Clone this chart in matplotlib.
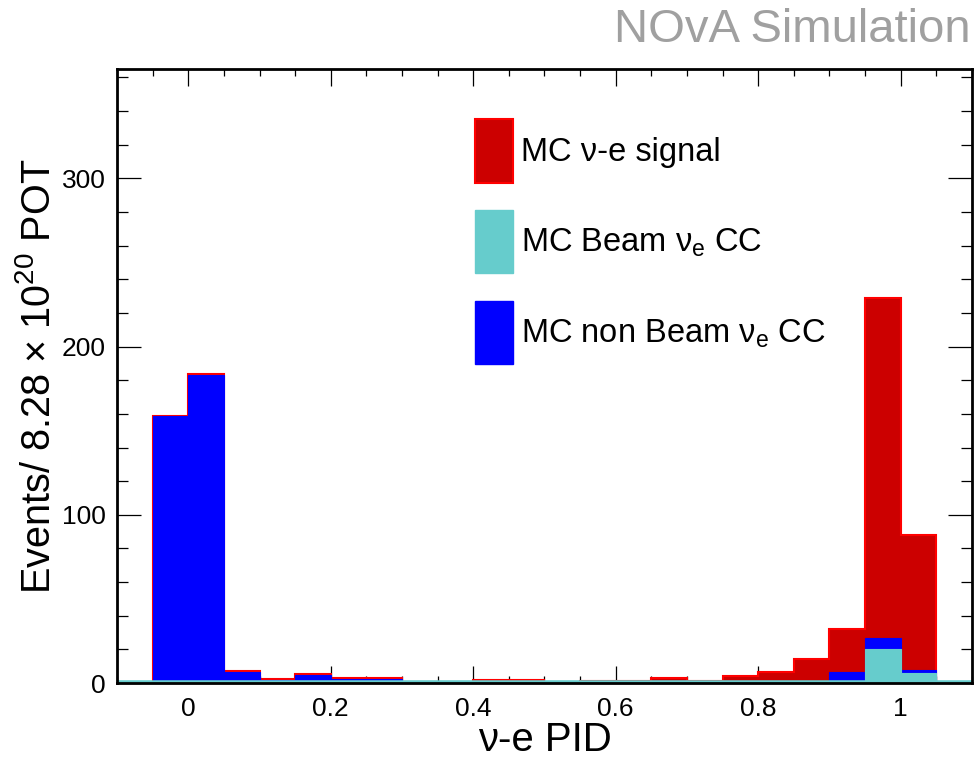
import numpy as np
import matplotlib
matplotlib.use("Agg")
import matplotlib.pyplot as plt
from matplotlib.ticker import MultipleLocator
from matplotlib.patches import Patch

plt.rcParams['font.family'] = ['Liberation Sans', 'DejaVu Sans']
plt.rcParams['mathtext.fontset'] = 'custom'
plt.rcParams['mathtext.rm'] = 'Liberation Sans'
plt.rcParams['mathtext.it'] = 'Liberation Sans:italic'

# bin edges of the nu-e PID histogram (-0.1 .. 1.1, width 0.05)
edges = np.round(np.arange(-0.1, 1.1001, 0.05), 3)

# events per bin
beam_nue = [0, 0, 0, 0, 0, 0, 0, 0, 0, 0, 0, 0,
            0, 0, 0, 0, 0, 0, 0, 0, 0.8, 20, 6, 0]
nonbeam_nue = [0, 158.5, 183, 6.5, 2.0, 5.0, 2.5, 2.5, 0.3, 0.3, 0.5, 0.5,
               0.3, 0.3, 0.3, 1.5, 0.3, 0.8, 0.8, 0.8, 5.5, 7, 2, 0]
signal = [0, 0.3, 0.8, 0.4, 0.4, 0.4, 0.4, 0.4, 0.2, 0.3, 1.5, 1.5,
          0.6, 1.0, 1.0, 1.5, 1.2, 3.5, 5.8, 13.5, 26, 202, 80, 0]

beam_nue = np.array(beam_nue)
nonbeam_nue = np.array(nonbeam_nue)
signal = np.array(signal)

# stacked like a THStack: each drawn as cumulative
cum_beam = beam_nue
cum_nonbeam = beam_nue + nonbeam_nue
cum_total = cum_nonbeam + signal

fig = plt.figure(figsize=(9.77, 7.58), dpi=100)
ax = fig.add_axes([0.1198, 0.0989, 0.875, 0.810])

ax.stairs(cum_total, edges, fill=True, facecolor='#cc0000', edgecolor='#ff0000',
          linewidth=1.5, zorder=2)
ax.stairs(cum_nonbeam, edges, fill=True, facecolor='#0000ff', edgecolor='#0000ff',
          linewidth=0.8, zorder=3)
ax.stairs(cum_beam, edges, fill=True, facecolor='#66cccc', edgecolor='#66cccc',
          linewidth=0.8, zorder=4)
ax.axhline(0, color='#66cccc', linewidth=4, zorder=5)

# legend with proxy patches
handles = [Patch(facecolor='#cc0000', edgecolor='#ff0000', linewidth=1.5),
           Patch(facecolor='#66cccc', edgecolor='#66cccc'),
           Patch(facecolor='#0000ff', edgecolor='#0000ff')]
labels = ['MC \u03bd-e signal', 'MC Beam \u03bd$_\\mathrm{e}$ CC',
          'MC non Beam \u03bd$_\\mathrm{e}$ CC']
ax.legend(handles, labels, loc='upper left', bbox_to_anchor=(0.419, 0.918),
          frameon=False, fontsize=23.5, handlelength=1.15, handleheight=2.6,
          labelspacing=0.85, handletextpad=0.25, borderaxespad=0, borderpad=0)

ax.set_xlim(-0.1, 1.1)
ax.set_ylim(0, 365)
ax.xaxis.set_minor_locator(MultipleLocator(0.05))
ax.yaxis.set_major_locator(MultipleLocator(100))
ax.yaxis.set_minor_locator(MultipleLocator(20))
ax.set_xticks([0, 0.2, 0.4, 0.6, 0.8, 1.0])
ax.set_xticklabels(['0', '0.2', '0.4', '0.6', '0.8', '1'])

ax.tick_params(axis='both', which='both', direction='in', top=True, right=True,
               labelsize=19, width=0.9)
ax.tick_params(axis='x', which='major', length=12, pad=10)
ax.tick_params(axis='x', which='minor', length=5)
ax.tick_params(axis='y', which='major', length=17, pad=8)
ax.tick_params(axis='y', which='minor', length=8)
for s in ax.spines.values():
    s.set_linewidth(2)
    s.set_zorder(6)

ax.set_xlabel('\u03bd-e PID', fontsize=29, labelpad=0)
ax.set_ylabel('Events/ 8.28 \u00d7 10$^{20}$ POT', fontsize=28.5, labelpad=3)

fig.text(0.993, 0.932, 'NOvA Simulation', ha='right', va='bottom',
         fontsize=34, color='#a0a0a0')

fig.savefig('out.png', dpi=100)
